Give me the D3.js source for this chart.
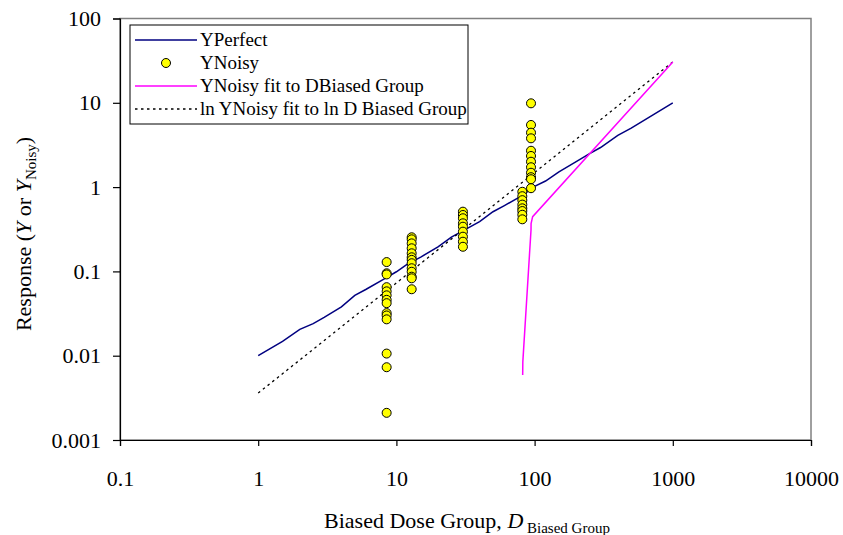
<!DOCTYPE html>
<html>
<head>
<meta charset="utf-8">
<script src="https://cdn.jsdelivr.net/npm/d3@7"></script>
<style>
  body { margin: 0; background: #fff; }
  svg text { font-family: "Liberation Serif", "Times New Roman", serif; }
</style>
</head>
<body>
<div id="chart"></div>
<script>
// Chart size
const width = 843;
const height = 535;

// Tick values
const xTicks = [0.1, 1, 10, 100, 1000, 10000];
const xTickLabels = ["0.1", "1", "10", "100", "1000", "10000"];
const yTicks = [0.001, 0.01, 0.1, 1, 10, 100];
const yTickLabels = ["0.001", "0.01", "0.1", "1", "10", "100"];

// YPerfect line  [dose, response]
const perfectDose = [1, 1.5, 2, 2.5, 3, 4, 5, 6, 8, 10, 12, 15, 20, 25, 30, 40, 50, 60, 80, 100, 120, 150, 200, 250, 300, 400, 500, 700, 1000];
const perfectResp = [0.0100, 0.0148, 0.0205, 0.0240, 0.0285, 0.038, 0.052, 0.061, 0.080, 0.099, 0.122, 0.148, 0.195, 0.255, 0.300, 0.39, 0.51, 0.60, 0.78, 1.02, 1.18, 1.52, 2.0, 2.5, 2.95, 4.1, 5.0, 7.0, 10];

// YNoisy points, grouped by biased dose group
const noisyGroups = [8.5, 12.9, 30.3, 81.5, 94.2];
const noisyValues = [
    [0.129, 0.095, 0.092, 0.065, 0.058, 0.052, 0.046, 0.042, 0.032, 0.030, 0.027, 0.0106, 0.0073, 0.0021],
    [0.254, 0.240, 0.215, 0.188, 0.164, 0.147, 0.137, 0.125, 0.109, 0.099, 0.0865, 0.0828, 0.0614],
    [0.511, 0.467, 0.427, 0.372, 0.339, 0.296, 0.258, 0.225, 0.196],
    [0.88, 0.78, 0.70, 0.62, 0.56, 0.52, 0.47, 0.415],
    [9.86, 5.46, 4.42, 3.79, 2.70, 2.34, 2.00, 1.72, 1.48, 1.31, 1.24, 0.97]
];

// YNoisy fit to D (linear fit shown on log axes)
const linFitDose = [82.0, 82.2, 94.2, 94.3, 96.8, 1000];
const linFitResp = [0.0059, 0.0085, 0.31, 0.37, 0.446, 30.5];

// ln YNoisy fit to ln D
const logFitDose = [1, 10, 100, 1000];
const logFitResp = [0.0036, 0.073, 1.49, 30.5];

// Legend entries
const legendLabels = ["YPerfect", "YNoisy", "YNoisy fit to DBiased Group", "ln YNoisy fit to ln D Biased Group"];

// Plot area
const plot = { left: 120, right: 811, top: 18.5, bottom: 440 };

const svg = d3.select('#chart')
    .append('svg')
    .attr('width', width)
    .attr('height', height);

const x = d3.scaleLog()
    .domain([0.1, 10000])
    .range([plot.left, plot.right]);

const y = d3.scaleLog()
    .domain([0.001, 100])
    .range([plot.bottom, plot.top]);

// Plot area border (gray)
svg.append('rect')
    .attr('x', plot.left)
    .attr('y', plot.top)
    .attr('width', plot.right - plot.left)
    .attr('height', plot.bottom - plot.top)
    .attr('fill', 'none')
    .attr('stroke', '#808080')
    .attr('stroke-width', 1.5);

// Axes
const xAxis = d3.axisBottom(x)
    .tickValues(xTicks)
    .tickFormat((d, i) => xTickLabels[i])
    .tickSize(6)
    .tickPadding(24);

const yAxis = d3.axisLeft(y)
    .tickValues(yTicks)
    .tickFormat((d, i) => yTickLabels[i])
    .tickSize(7)
    .tickPadding(12);

const gx = svg.append('g')
    .attr('transform', `translate(0,${plot.bottom})`)
    .call(xAxis);

const gy = svg.append('g')
    .attr('transform', `translate(${plot.left},0)`)
    .call(yAxis);

[gx, gy].forEach(g => {
    g.select('.domain').attr('stroke', '#000').attr('stroke-width', 1.2);
    g.selectAll('.tick line').attr('stroke', '#000').attr('stroke-width', 1.2);
    g.selectAll('.tick text')
        .attr('fill', '#000')
        .style('font-family', '"Liberation Serif", serif')
        .style('font-size', '22px');
});

// Axis titles
const yTitle = svg.append('text')
    .attr('transform', `translate(31,${234}) rotate(-90)`)
    .attr('text-anchor', 'middle')
    .style('font-size', '22px');
yTitle.append('tspan').text('Response (');
yTitle.append('tspan').attr('font-style', 'italic').text('Y');
yTitle.append('tspan').text(' or ');
yTitle.append('tspan').attr('font-style', 'italic').text('Y');
yTitle.append('tspan').attr('dy', 5).style('font-size', '15px').text('Noisy');
yTitle.append('tspan').attr('dy', -5).text(')');

const xTitle = svg.append('text')
    .attr('x', 467)
    .attr('y', 528)
    .attr('text-anchor', 'middle')
    .style('font-size', '22px');
xTitle.append('tspan').text('Biased Dose Group, ');
xTitle.append('tspan').attr('font-style', 'italic').text('D');
xTitle.append('tspan').attr('dy', 5).style('font-size', '15px').text(' Biased Group');

// Lines
const line = d3.line()
    .x(d => x(d[0]))
    .y(d => y(d[1]));

const g = svg.append('g');

g.append('path')
    .datum(perfectDose.map((d, i) => [d, perfectResp[i]]))
    .attr('d', line)
    .attr('fill', 'none')
    .attr('stroke', '#000080')
    .attr('stroke-width', 1.5);

g.append('path')
    .datum(logFitDose.map((d, i) => [d, logFitResp[i]]))
    .attr('d', line)
    .attr('fill', 'none')
    .attr('stroke', '#000')
    .attr('stroke-width', 1.3)
    .attr('stroke-dasharray', '2.5,3.5');

g.append('path')
    .datum(linFitDose.map((d, i) => [d, linFitResp[i]]))
    .attr('d', line)
    .attr('fill', 'none')
    .attr('stroke', '#FF00FF')
    .attr('stroke-width', 1.5);

// Noisy points
const points = [];
noisyGroups.forEach((dose, i) => {
    noisyValues[i].forEach(v => points.push({ dose: dose, value: v }));
});

g.selectAll('circle.noisy')
    .data(points)
    .join('circle')
      .attr('class', 'noisy')
      .attr('cx', d => x(d.dose))
      .attr('cy', d => y(d.value))
      .attr('r', 4.5)
      .attr('fill', '#FFFF00')
      .attr('stroke', '#000')
      .attr('stroke-width', 1);

// Legend
const legend = svg.append('g');
legend.append('rect')
    .attr('x', 130)
    .attr('y', 25)
    .attr('width', 338)
    .attr('height', 99)
    .attr('fill', '#fff')
    .attr('stroke', '#000')
    .attr('stroke-width', 1);

const rowY = [40, 63, 86, 109];
const legendItems = legend.selectAll('g.item')
    .data(legendLabels)
    .join('g')
      .attr('class', 'item')
      .attr('transform', (d, i) => `translate(0,${rowY[i]})`);

legendItems.append('text')
    .attr('x', 200)
    .attr('y', 6)
    .style('font-size', '19px')
    .text(d => d);

legendItems.filter((d, i) => i !== 1)
    .append('line')
    .attr('x1', 135)
    .attr('x2', 197)
    .attr('stroke', (d, i) => ['#000080', '#FF00FF', '#000'][i])
    .attr('stroke-width', (d, i) => i === 2 ? 1.3 : 1.5)
    .attr('stroke-dasharray', (d, i) => i === 2 ? '2.5,3.5' : null);

legendItems.filter((d, i) => i === 1)
    .append('circle')
    .attr('cx', 166)
    .attr('cy', 0)
    .attr('r', 4.5)
    .attr('fill', '#FFFF00')
    .attr('stroke', '#000');
</script>
</body>
</html>
